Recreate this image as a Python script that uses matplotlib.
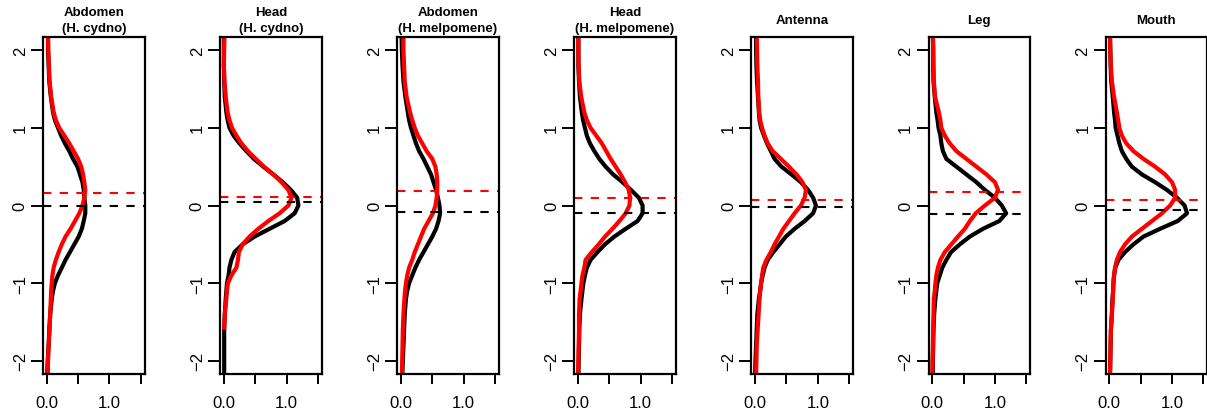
"""
Density of expression shift per tissue, black vs red group
"""
import numpy as np
import matplotlib.pyplot as plt

plt.rcParams['font.family'] = ['Liberation Sans', 'DejaVu Sans']

titles = ["Abdomen\n(H. cydno)", "Head\n(H. cydno)", "Abdomen\n(H. melpomene)",
          "Head\n(H. melpomene)", "Antenna", "Leg", "Mouth"]

# value axis (vertical) where the densities were read
y = [2.2, 2.0, 1.8, 1.6, 1.4,
     1.2, 1.1, 1.0, 0.9, 0.8, 0.7, 0.6, 0.5, 0.4, 0.3, 0.2, 0.1, 0.0,
     -0.1, -0.2, -0.3, -0.4, -0.5, -0.6, -0.7, -0.8, -0.9, -1.0, -1.1, -1.2,
     -1.4, -1.6, -1.8, -2.0, -2.2]

nan = float('nan')

abd_cydno_black = [0.02, 0.02, 0.03, 0.04, 0.065,
                   0.10, 0.13, 0.18, 0.23, 0.29, 0.36, 0.42, 0.49, 0.53, 0.57, 0.59, 0.60, 0.615,
                   0.615, 0.59, 0.56, 0.51, 0.44, 0.37, 0.30, 0.24, 0.18, 0.13, 0.10, 0.08,
                   0.055, 0.04, 0.03, 0.015, 0.005]
abd_cydno_red = [0.02, 0.025, 0.035, 0.045, 0.07,
                 0.11, 0.145, 0.20, 0.28, 0.36, 0.43, 0.50, 0.55, 0.58, 0.60, 0.615, 0.60, 0.57,
                 0.52, 0.45, 0.38, 0.30, 0.24, 0.19, 0.145, 0.11, 0.09, 0.08, 0.07, 0.065,
                 0.055, 0.045, 0.03, 0.02, 0.015]

head_cydno_black = [0.0, 0.0, 0.0, 0.005, 0.015,
                    0.04, 0.06, 0.09, 0.155, 0.25, 0.36, 0.48, 0.63, 0.79, 0.94, 1.07, 1.17, 1.19,
                    1.13, 0.97, 0.73, 0.49, 0.30, 0.17, 0.12, 0.09, 0.075, 0.05, 0.04, 0.03,
                    0.015, 0.005, 0.005, 0.005, 0.005]
head_cydno_red = [0.01, 0.005, 0.0, 0.01, 0.03,
                  0.06, 0.09, 0.13, 0.20, 0.28, 0.385, 0.51, 0.64, 0.79, 0.92, 1.03, 1.08, 1.03,
                  0.89, 0.71, 0.55, 0.41, 0.30, 0.24, 0.225, 0.20, 0.12, 0.065, 0.05, 0.04,
                  0.015, 0.005, nan, nan, nan]

abd_melp_black = [0.01, 0.015, 0.025, 0.04, 0.07,
                  0.11, 0.13, 0.16, 0.20, 0.24, 0.29, 0.36, 0.42, 0.48, 0.52, 0.56, 0.59, 0.615,
                  0.625, 0.60, 0.56, 0.50, 0.43, 0.36, 0.29, 0.23, 0.18, 0.13, 0.10, 0.08,
                  0.06, 0.05, 0.04, 0.03, 0.02]
abd_melp_red = [0.04, 0.04, 0.05, 0.06, 0.09,
                0.145, 0.18, 0.22, 0.27, 0.34, 0.41, 0.50, 0.55, 0.57, 0.58, 0.58, 0.57, 0.55,
                0.51, 0.44, 0.37, 0.32, 0.27, 0.22, 0.18, 0.13, 0.10, 0.08, 0.065, 0.055,
                0.04, 0.03, 0.025, 0.02, 0.015]

head_melp_black = [0.005, 0.005, 0.005, 0.015, 0.03,
                   0.06, 0.08, 0.11, 0.14, 0.19, 0.26, 0.34, 0.44, 0.56, 0.71, 0.845, 0.97, 1.03,
                   1.03, 0.95, 0.76, 0.58, 0.43, 0.31, 0.20, 0.14, 0.11, 0.085, 0.07, 0.055,
                   0.03, 0.02, 0.015, 0.01, 0.005]
head_melp_red = [0.005, 0.005, 0.01, 0.02, 0.05,
                 0.10, 0.14, 0.20, 0.29, 0.38, 0.45, 0.52, 0.60, 0.68, 0.75, 0.81, 0.83, 0.82,
                 0.76, 0.66, 0.55, 0.43, 0.33, 0.22, 0.12, 0.10, 0.07, 0.055, 0.04, 0.025,
                 0.015, 0.015, 0.01, 0.005, 0.0]

antenna_black = [0.015, 0.015, 0.02, 0.03, 0.045,
                 0.06, 0.07, 0.095, 0.14, 0.19, 0.25, 0.31, 0.42, 0.58, 0.73, 0.845, 0.925, 0.97,
                 0.925, 0.79, 0.63, 0.49, 0.39, 0.29, 0.20, 0.15, 0.12, 0.095, 0.08, 0.06,
                 0.035, 0.025, 0.015, 0.005, 0.0]
antenna_red = [0.025, 0.03, 0.035, 0.045, 0.05,
               0.065, 0.08, 0.11, 0.15, 0.20, 0.28, 0.41, 0.54, 0.66, 0.755, 0.81, 0.79, 0.73,
               0.63, 0.54, 0.45, 0.38, 0.31, 0.25, 0.18, 0.13, 0.11, 0.095, 0.08, 0.07,
               0.055, 0.04, 0.025, 0.02, 0.015]

leg_black = [0.01, 0.015, 0.015, 0.02, 0.04,
             0.065, 0.085, 0.10, 0.13, 0.145, 0.17, 0.225, 0.385, 0.545, 0.705, 0.84, 1.0, 1.11,
             1.18, 1.07, 0.81, 0.60, 0.44, 0.30, 0.225, 0.16, 0.12, 0.08, 0.065, 0.05,
             0.03, 0.02, 0.015, 0.01, 0.01]
leg_red = [0.01, 0.015, 0.02, 0.025, 0.045,
           0.105, 0.13, 0.145, 0.20, 0.28, 0.385, 0.545, 0.705, 0.865, 1.0, 1.05, 1.0, 0.84,
           0.695, 0.60, 0.52, 0.41, 0.305, 0.20, 0.13, 0.09, 0.065, 0.05, 0.04, 0.025,
           0.02, 0.015, 0.01, 0.005, 0.0]

mouth_black = [0.01, 0.015, 0.02, 0.03, 0.055,
               0.075, 0.09, 0.10, 0.13, 0.16, 0.20, 0.27, 0.36, 0.52, 0.73, 0.92, 1.08, 1.2,
               1.24, 1.09, 0.81, 0.545, 0.385, 0.25, 0.145, 0.095, 0.075, 0.065, 0.06, 0.05,
               0.04, 0.025, 0.02, 0.015, 0.01]
mouth_red = [0.01, 0.015, 0.025, 0.04, 0.075,
             0.12, 0.14, 0.16, 0.20, 0.27, 0.385, 0.545, 0.73, 0.89, 1.0, 1.05, 1.05, 0.97,
             0.84, 0.68, 0.52, 0.36, 0.25, 0.17, 0.12, 0.09, 0.075, 0.065, 0.06, 0.055,
             0.04, 0.025, 0.02, 0.015, 0.01]

black_curves = [abd_cydno_black, head_cydno_black, abd_melp_black, head_melp_black,
                antenna_black, leg_black, mouth_black]
red_curves = [abd_cydno_red, head_cydno_red, abd_melp_red, head_melp_red,
              antenna_red, leg_red, mouth_red]

# dashed reference lines (group means)
black_means = [0.0, 0.05, -0.086, -0.094, -0.013, -0.107, -0.064]
red_means = [0.167, 0.107, 0.184, 0.094, 0.069, 0.171, 0.077]

W, H = 1207, 414
fig = plt.figure(figsize=(W / 100, H / 100), dpi=100)

for i in range(len(titles)):
    left = 43 + 177.1 * i
    ax = fig.add_axes([left / W, (H - 375) / H, 101.5 / W, 337 / H])

    ax.plot(black_curves[i], y, color='black', lw=3, solid_capstyle='butt')
    ax.plot(red_curves[i], y, color='red', lw=3, solid_capstyle='butt')
    ax.axhline(black_means[i], color='black', lw=1.5, linestyle=(0, (4, 4)))
    ax.axhline(red_means[i], color='red', lw=1.5, linestyle=(0, (4, 4)))

    ax.set_xlim(-0.06, 1.56)
    ax.set_ylim(-2.17, 2.17)
    ax.set_xticks([0, 0.5, 1.0, 1.5])
    ax.set_xticklabels(['0.0', '', '1.0', ''])
    ax.set_yticks([-2, -1, 0, 1, 2])
    ax.set_yticklabels(['\u22122', '\u22121', '0', '1', '2'], rotation=90, va='center')
    ax.tick_params(axis='x', length=7, width=1.4, pad=8, labelsize=12)
    ax.tick_params(axis='y', length=9, width=1.4, pad=2, labelsize=12)
    for s in ax.spines.values():
        s.set_linewidth(1.6)

    fig.text((left + 101.5 / 2) / W, 1 - 21 / H, titles[i], ha='center', va='center',
             fontsize=9.5, fontweight='bold', linespacing=1.5)

plt.savefig("out.png", dpi=100)
